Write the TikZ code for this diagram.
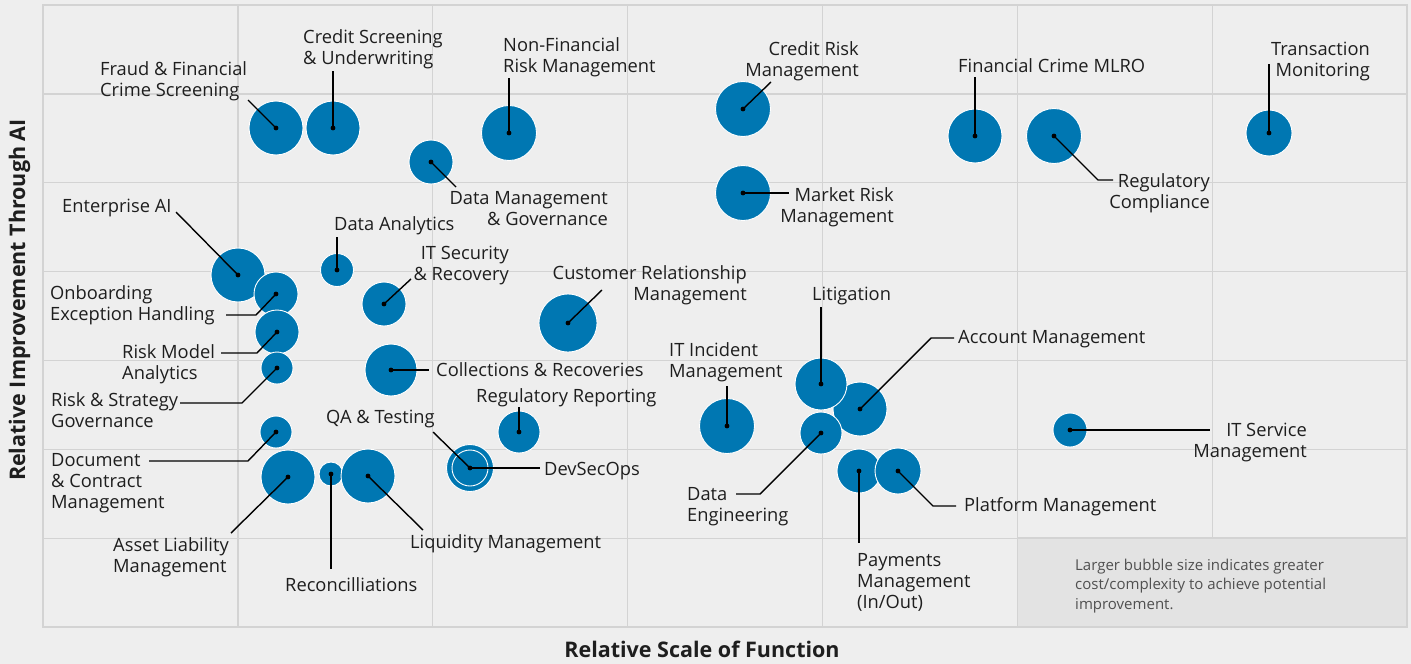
\documentclass[tikz,border=0pt]{standalone}
\usepackage{fontspec}
\setmainfont{Open Sans}
\definecolor{bubbleblue}{HTML}{0077B2}
\definecolor{gridgray}{HTML}{D3D3D3}
\definecolor{backgray}{HTML}{EEEEEE}
\definecolor{notegray}{HTML}{E3E3E3}
\definecolor{labelblack}{HTML}{1E1E1E}
\definecolor{notetext}{HTML}{505050}

\begin{document}
\begin{tikzpicture}[x=1pt, y=-1pt,
  bubble/.style={circle, fill=bubbleblue, draw=white, line width=0.9pt, inner sep=0pt},
  lbl/.style={inner sep=0pt, text=labelblack, font=\fontsize{18.3}{21.3}\selectfont},
  leader/.style={draw=black, line width=1.4pt},
  gridline/.style={draw=gridgray, line width=1.3pt},
  axistitle/.style={inner sep=0pt, text=labelblack, font=\fontsize{21.5}{26}\selectfont\bfseries}]

  % canvas and grid
  \useasboundingbox[fill=backgray] (0,0) rectangle (1411,664);
  \foreach \i in {1,...,6} {
    \draw[gridline] ({43+194.86*\i},5) -- ({43+194.86*\i},627);
    \draw[gridline] (43,{5+88.86*\i}) -- (1407,{5+88.86*\i});
  }
  \filldraw[fill=notegray, draw=gridgray, line width=1.3pt] (1017.3,538.1) rectangle (1407,627);
  \draw[gridline] (43,5) rectangle (1407,627);

  % bubbles
  \node[bubble, minimum size=54] (fraud) at (276,128) {};
  \node[bubble, minimum size=54] (crscreen) at (333,128) {};
  \node[bubble, minimum size=44] (datamgmt) at (431,162) {};
  \node[bubble, minimum size=55] (nonfin) at (509,133) {};
  \node[bubble, minimum size=55] (creditrisk) at (743,109) {};
  \node[bubble, minimum size=55] (marketrisk) at (743,193) {};
  \node[bubble, minimum size=54] (fincrime) at (975,136) {};
  \node[bubble, minimum size=55] (regcomp) at (1054,136) {};
  \node[bubble, minimum size=46] (transmon) at (1269,133) {};
  \node[bubble, minimum size=54] (enterprise) at (238,275) {};
  \node[bubble, minimum size=44] (onboard) at (276,294) {};
  \node[bubble, minimum size=44] (riskmodel) at (277,332) {};
  \node[bubble, minimum size=32] (riskstrat) at (277,368) {};
  \node[bubble, minimum size=33] (analytics) at (337,270) {};
  \node[bubble, minimum size=44] (itsec) at (384,304) {};
  \node[bubble, minimum size=58] (custrel) at (568,323) {};
  \node[bubble, minimum size=52] (collect) at (391,370) {};
  \node[bubble, minimum size=32] (document) at (276,432) {};
  \node[bubble, minimum size=54] (assetliab) at (288,477) {};
  \node[bubble, minimum size=24] (reconc) at (331,474) {};
  \node[bubble, minimum size=54] (liquidity) at (368,476) {};
  \node[bubble, minimum size=47] (qatest) at (470,468) {};
  \node[bubble, minimum size=36] (devsecops) at (470,468) {};
  \node[bubble, minimum size=42] (regrep) at (519,432) {};
  \node[bubble, minimum size=55] (itincident) at (727,426) {};
  \node[bubble, minimum size=54] (account) at (860,409) {};
  \node[bubble, minimum size=52] (litigation) at (821,384) {};
  \node[bubble, minimum size=42] (dataeng) at (821,433) {};
  \node[bubble, minimum size=44] (payments) at (859,471) {};
  \node[bubble, minimum size=46] (platform) at (898,471) {};
  \node[bubble, minimum size=34] (itservice) at (1070,430) {};

  % labels (base = baseline of the last line)
  \node[lbl, align=left, anchor=base west] (fraud-lbl) at (100,96.3) {Fraud \& Financial\\Crime Screening};
  \node[lbl, align=left, anchor=base west] (crscreen-lbl) at (303,64.3) {Credit Screening\\\& Underwriting};
  \node[lbl, align=right, anchor=base east] (datamgmt-lbl) at (608,225.3) {Data Management\\\& Governance};
  \node[lbl, align=left, anchor=base west] (nonfin-lbl) at (503,72.3) {Non-Financial\\Risk Management};
  \node[lbl, align=right, anchor=base east] (creditrisk-lbl) at (859,76.3) {Credit Risk\\Management};
  \node[lbl, align=right, anchor=base east] (marketrisk-lbl) at (894,222.3) {Market Risk\\Management};
  \node[lbl, anchor=base west] (fincrime-lbl) at (958,72) {Financial Crime MLRO};
  \node[lbl, align=right, anchor=base east] (regcomp-lbl) at (1210,208.3) {Regulatory\\Compliance};
  \node[lbl, align=right, anchor=base east] (transmon-lbl) at (1370,76.3) {Transaction\\Monitoring};
  \node[lbl, anchor=base west] (enterprise-lbl) at (62,212) {Enterprise AI};
  \node[lbl, anchor=base west] (analytics-lbl) at (334,230) {Data Analytics};
  \node[lbl, align=right, anchor=base east] (itsec-lbl) at (509,280.3) {IT Security\\\& Recovery};
  \node[lbl, align=right, anchor=base east] (custrel-lbl) at (747,300.3) {Customer Relationship\\Management};
  \node[lbl, align=left, anchor=base west] (onboard-lbl) at (50,320.3) {Onboarding\\Exception Handling};
  \node[lbl, align=left, anchor=base west] (riskmodel-lbl) at (122,379.3) {Risk Model\\Analytics};
  \node[lbl, align=left, anchor=base west] (riskstrat-lbl) at (51,427.3) {Risk \& Strategy\\Governance};
  \node[lbl, anchor=base west] (collect-lbl) at (436,376) {Collections \& Recoveries};
  \node[lbl, align=left, anchor=base west] (document-lbl) at (51,508.6) {Document\\\& Contract\\Management};
  \node[lbl, align=left, anchor=base west] (assetliab-lbl) at (113,572.3) {Asset Liability\\Management};
  \node[lbl, anchor=base west] (reconc-lbl) at (285,591) {Reconcilliations};
  \node[lbl, anchor=base west] (liquidity-lbl) at (410,548) {Liquidity Management};
  \node[lbl, anchor=base west] (qatest-lbl) at (326,423) {QA \& Testing};
  \node[lbl, anchor=base west] (devsecops-lbl) at (544,475) {DevSecOps};
  \node[lbl, anchor=base west] (regrep-lbl) at (476,402) {Regulatory Reporting};
  \node[lbl, align=left, anchor=base west] (itincident-lbl) at (669,377.3) {IT Incident\\Management};
  \node[lbl, anchor=base west] (litigation-lbl) at (812,300) {Litigation};
  \node[lbl, anchor=base west] (account-lbl) at (958,343) {Account Management};
  \node[lbl, align=left, anchor=base west] (dataeng-lbl) at (687,521.3) {Data\\Engineering};
  \node[lbl, align=left, anchor=base west] (payments-lbl) at (857,608.6) {Payments\\Management\\(In/Out)};
  \node[lbl, anchor=base west] (platform-lbl) at (964,511) {Platform Management};
  \node[lbl, align=right, anchor=base east] (itservice-lbl) at (1307,457.3) {IT Service\\Management};

  % leader ends and bends
  \coordinate (fraud-end) at (248,100);
  \coordinate (crscreen-end) at (333,71);
  \coordinate (datamgmt-end) at (456,187);
  \coordinate (nonfin-end) at (509,78);
  \coordinate (creditrisk-end) at (771,82);
  \coordinate (marketrisk-end) at (789,193);
  \coordinate (fincrime-end) at (975,77);
  \coordinate (regcomp-bend) at (1098,180);
  \coordinate (regcomp-end) at (1113,180);
  \coordinate (transmon-end) at (1269,64);
  \coordinate (enterprise-end) at (176,212);
  \coordinate (analytics-end) at (337,237);
  \coordinate (itsec-end) at (411,279);
  \coordinate (custrel-end) at (602,290);
  \coordinate (onboard-bend) at (256,315);
  \coordinate (onboard-end) at (226,315);
  \coordinate (riskmodel-bend) at (257,353);
  \coordinate (riskmodel-end) at (221,353);
  \coordinate (riskstrat-bend) at (242,403);
  \coordinate (riskstrat-end) at (180,403);
  \coordinate (collect-end) at (429,370);
  \coordinate (document-bend) at (248,461);
  \coordinate (document-end) at (149,461);
  \coordinate (assetliab-end) at (231,533);
  \coordinate (reconc-end) at (331,569);
  \coordinate (liquidity-end) at (423,530);
  \coordinate (qatest-end) at (433,432);
  \coordinate (devsecops-end) at (540,468);
  \coordinate (regrep-end) at (519,407);
  \coordinate (itincident-end) at (727,386);
  \coordinate (litigation-end) at (821,307);
  \coordinate (account-bend) at (931,338);
  \coordinate (account-end) at (954,338);
  \coordinate (dataeng-bend) at (760,494);
  \coordinate (dataeng-end) at (736,494);
  \coordinate (payments-end) at (859,543);
  \coordinate (platform-bend) at (933,506);
  \coordinate (platform-end) at (956,506);
  \coordinate (itservice-end) at (1210,430);

  % leaders
  \foreach \b in {fraud, crscreen, datamgmt, nonfin, creditrisk, marketrisk, fincrime,
    transmon, enterprise, analytics, itsec, custrel, collect, assetliab, reconc,
    liquidity, qatest, devsecops, regrep, itincident, litigation, payments, itservice}
    \draw[leader] (\b.center) -- (\b-end);
  \foreach \b in {regcomp, onboard, riskmodel, riskstrat, document, account, dataeng, platform}
    \draw[leader] (\b.center) -- (\b-bend) -- (\b-end);
  \foreach \b in {fraud, crscreen, datamgmt, nonfin, creditrisk, marketrisk, fincrime,
    regcomp, transmon, enterprise, onboard, riskmodel, riskstrat, analytics, itsec,
    custrel, collect, document, assetliab, reconc, liquidity, devsecops, regrep,
    itincident, account, litigation, dataeng, payments, platform, itservice}
    \fill[black] (\b.center) circle (2.4);

  % note and axis titles
  \node[inner sep=0pt, align=left, anchor=base west, text=notetext,
    font=\fontsize{15}{19.5}\selectfont] (note) at (1075,609)
    {Larger bubble size indicates greater\\cost/complexity to achieve potential\\improvement.};
  \node[axistitle, anchor=base] (xtitle) at (702,657) {Relative Scale of Function};
  \node[axistitle, anchor=base, rotate=90] (ytitle) at (25,300) {Relative Improvement Through AI};
\end{tikzpicture}
\end{document}
